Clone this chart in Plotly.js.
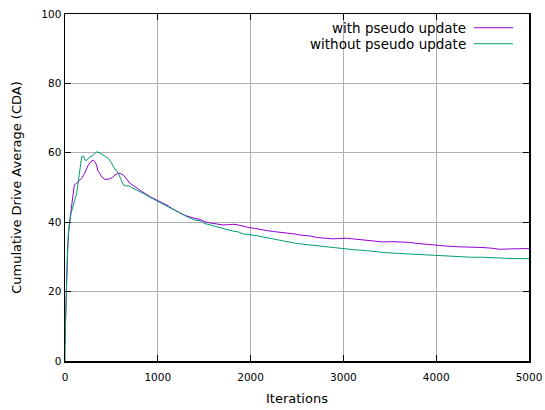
<!DOCTYPE html>
<html>
<head>
<meta charset="utf-8">
<script src="https://cdn.plot.ly/plotly-3.0.1.min.js"></script>
<style>
  html, body { margin: 0; padding: 0; background: #fff; }
  #chart { width: 545px; height: 410px; }
</style>
</head>
<body>
<div id="chart"></div>
<script>
// Cumulative drive average over training iterations, with and without pseudo updates.
const seriesNames = ["with pseudo update", "without pseudo update"];
const seriesColors = ["#9400d3", "#009e73"];

const withIter = [0, 13, 27, 45, 72, 90, 100, 126, 150, 180, 210, 251, 280, 305, 323, 340, 352, 375, 395, 431, 460, 485, 515, 539, 575, 600, 629, 665, 700, 740, 772, 820, 862, 920, 988, 1050, 1100, 1150, 1200, 1250, 1300, 1350, 1400, 1455, 1509, 1560, 1600, 1650, 1704, 1760, 1812, 1868, 1920, 1992, 2050, 2100, 2172, 2250, 2330, 2423, 2480, 2531, 2600, 2650, 2711, 2800, 2890, 2950, 3034, 3100, 3170, 3250, 3330, 3429, 3520, 3608, 3700, 3787, 3900, 4003, 4120, 4254, 4380, 4505, 4600, 4684, 4800, 4900, 5000];
const withCDA = [5, 20, 32, 39, 45, 50, 50.7, 51.2, 52, 52.6, 54, 56.5, 57.5, 57.9, 57.4, 56.5, 55, 54, 53.1, 52.3, 52.4, 52.5, 53, 53.6, 54.1, 54, 53.6, 52.5, 51.2, 50.5, 49.8, 49, 48.3, 47.3, 46.4, 45.6, 44.9, 44, 43.2, 42.5, 41.9, 41.4, 41.1, 40.8, 40.1, 39.8, 39.6, 39.3, 39.2, 39.3, 39.4, 39.2, 38.8, 38.4, 38.2, 37.9, 37.6, 37.3, 37.1, 36.8, 36.6, 36.3, 36.1, 36, 35.6, 35.4, 35.2, 35.3, 35.4, 35.2, 35, 34.7, 34.5, 34.3, 34.4, 34.4, 34.2, 33.9, 33.6, 33.3, 33.1, 32.9, 32.9, 32.7, 32.5, 32.2, 32.3, 32.3, 32.4];

const withoutIter = [0, 5, 20, 36, 65, 97, 126, 140, 151, 165, 180, 198, 215, 233, 244, 269, 287, 305, 341, 370, 395, 430, 467, 500, 521, 550, 575, 600, 629, 665, 690, 718, 780, 844, 900, 970, 1050, 1100, 1150, 1200, 1250, 1300, 1329, 1400, 1455, 1509, 1560, 1632, 1689, 1740, 1800, 1868, 1920, 2047, 2100, 2172, 2250, 2320, 2387, 2450, 2550, 2620, 2711, 2760, 2819, 2900, 2998, 3100, 3250, 3350, 3465, 3600, 3752, 3880, 4003, 4130, 4254, 4380, 4505, 4620, 4750, 4870, 5000];
const withoutCDA = [0, 11, 25, 36.8, 42.6, 45.9, 48.3, 51, 53.1, 56, 58.9, 59.1, 57.9, 57.8, 58.1, 58.9, 58.9, 59.4, 60.3, 60, 59.6, 59.2, 58.4, 57.2, 56, 55, 54.1, 52.5, 50.7, 50.4, 50.5, 50, 49.2, 48.3, 47.4, 46.4, 45.4, 44.7, 44, 43.2, 42.5, 41.8, 41.4, 40.6, 40.4, 39.6, 39.2, 38.7, 38.3, 37.8, 37.5, 37.2, 36.6, 36.2, 35.9, 35.6, 35.1, 34.7, 34.4, 34.1, 33.7, 33.5, 33.1, 32.9, 32.9, 32.5, 32.2, 32.1, 31.8, 31.5, 31.2, 31, 30.8, 30.7, 30.5, 30.2, 30, 29.9, 29.9, 29.7, 29.6, 29.5, 29.5];

const xTicks = [0, 1000, 2000, 3000, 4000, 5000];
const yTicks = [0, 20, 40, 60, 80, 100];

const FONT = "DejaVu Sans, sans-serif";

const traces = [
  { x: withIter, y: withCDA, name: seriesNames[0], type: "scatter", mode: "lines",
    line: { color: seriesColors[0], width: 1 }, showlegend: false },
  { x: withoutIter, y: withoutCDA, name: seriesNames[1], type: "scatter", mode: "lines",
    line: { color: seriesColors[1], width: 1 }, showlegend: false }
];

// Key in the top-right corner: right-aligned label followed by a line sample.
const keyY = [0.9605, 0.9144];
const annotations = seriesNames.map((n, i) => ({
  text: n, xref: "paper", yref: "paper", x: 0.8685, y: keyY[i],
  xanchor: "right", yanchor: "middle", showarrow: false,
  font: { family: FONT, size: 13.5, color: "#000" }
}));
const shapes = seriesNames.map((n, i) => ({
  type: "line", xref: "paper", yref: "paper",
  x0: 0.8815, x1: 0.9655, y0: keyY[i], y1: keyY[i],
  line: { color: seriesColors[i], width: 1 }
}));

const axisCommon = {
  showline: true, linecolor: "#000", linewidth: 1.5, mirror: "ticks",
  ticks: "inside", ticklen: 6, tickcolor: "#000", tickwidth: 1,
  showgrid: true, gridcolor: "#b0b0b0", gridwidth: 1, zeroline: false,
  tickfont: { family: FONT, size: 10.5, color: "#000" }
};

const layout = {
  width: 545, height: 410,
  margin: { l: 65, r: 16, t: 14, b: 49 },
  paper_bgcolor: "#fff", plot_bgcolor: "#fff",
  showlegend: false,
  xaxis: Object.assign({}, axisCommon, {
    range: [0, 5000], tickvals: xTicks, ticktext: xTicks.map(String),
    ticklabelstandoff: 6,
    title: { text: "Iterations", font: { family: FONT, size: 13, color: "#000" }, standoff: 12 }
  }),
  yaxis: Object.assign({}, axisCommon, {
    range: [0, 100], tickvals: yTicks, ticktext: yTicks.map(String),
    title: { text: "Cumulative Drive Average (CDA)", font: { family: FONT, size: 13, color: "#000" }, standoff: 17 }
  }),
  annotations: annotations,
  shapes: shapes
};

Plotly.newPlot("chart", traces, layout, { staticPlot: true, displayModeBar: false });
</script>
</body>
</html>
